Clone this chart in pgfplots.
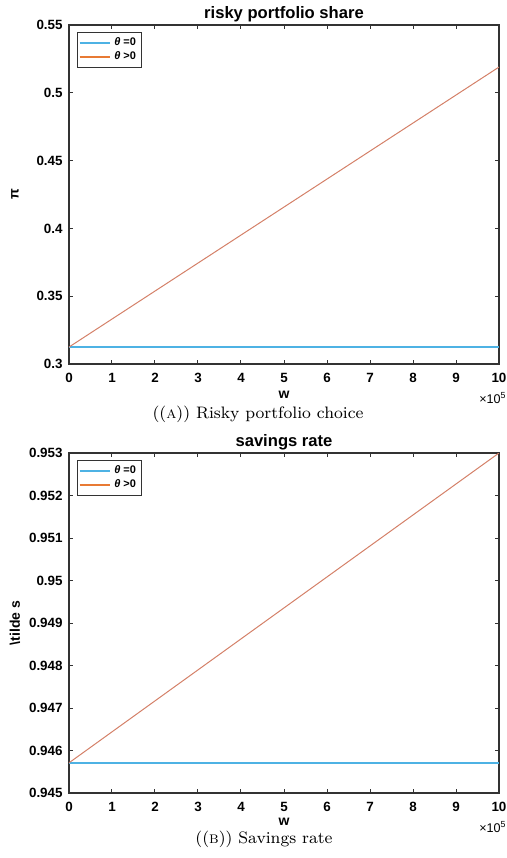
\documentclass[border=0pt]{standalone}
\usepackage{fontspec}
\usepackage{pgfplots}
\pgfplotsset{compat=1.18}
\newfontfamily\mfont{Liberation Sans}

\definecolor{mblue}{RGB}{77,178,228}
\definecolor{mred}{RGB}{212,128,104}
\definecolor{lorange}{RGB}{232,122,52}

\pgfplotsset{
  mstyle/.style={
    scale only axis, width=215pt,
    xmin=0, xmax=10, xtick={0,1,...,10},
    tick align=inside, major tick length=2pt,
    axis line style={black!80, line width=0.8pt},
    every tick/.style={black!80, line width=0.5pt},
    /pgf/number format/assume math mode=true,
    tick label style={font=\fontsize{6.7}{7}\mfont\bfseries},
    xticklabel style={inner sep=0pt, yshift=-4.5pt},
    yticklabel style={inner sep=0pt, xshift=-3pt},
    scaled y ticks=false,
    every axis title shift=0pt,
    title style={font=\fontsize{8.3}{9}\mfont\bfseries, at={(0.5,1)}, anchor=base, yshift=3.5pt, inner sep=0pt},
    xlabel style={font=\fontsize{7}{8}\mfont\bfseries, at={(0.5,0)}, anchor=center, yshift=-15.5pt, inner sep=0pt},
    ylabel style={font=\fontsize{7}{8}\mfont\bfseries, at={(-0.1256,0.5)}, anchor=center, inner sep=0pt},
    legend style={at={(0,1)}, anchor=north west, xshift=4pt, yshift=-3.5pt,
      font=\fontsize{5.5}{6}\mfont\bfseries, inner sep=0.6pt, row sep=-2.5pt,
      draw=black!80, line width=0.5pt},
    legend cell align=left,
    legend image code/.code={\draw[#1] (0pt,0pt) -- (15pt,0pt);},
  },
}

\begin{document}
\begin{tikzpicture}[x=1pt,y=1pt]
\useasboundingbox (0,0) rectangle (253.5,-429);

% (a) risky portfolio share
\begin{axis}[mstyle, at={(34.5pt,-182pt)}, anchor=south west, height=169.5pt,
  ymin=0.3, ymax=0.55, ytick={0.3,0.35,0.4,0.45,0.5,0.55},
  title={risky portfolio share}, xlabel={w}, ylabel={π}]
\addplot[mblue, line width=0.7pt] coordinates {(0,0.3125) (10,0.3125)};
\addlegendentry{{\itshape θ} =0}
\addplot[mred, line width=0.5pt, legend image post style={lorange, line width=0.8pt}]
  coordinates {(0,0.3125) (10,0.519)};
\addlegendentry{{\itshape θ} >0}
\end{axis}
\node[anchor=east, inner sep=0pt, font=\fontsize{6.3}{7}\mfont] at (253.5,-199) {×10\textsuperscript{5}};
\node[font=\fontsize{8.3}{10}\selectfont, inner sep=0pt] at (129,-207) {((\textsc{a})) Risky portfolio choice};

% (b) savings rate
\begin{axis}[mstyle, at={(34.5pt,-396.5pt)}, anchor=south west, height=170pt,
  ymin=0.945, ymax=0.953,
  ytick={0.945,0.946,0.947,0.948,0.949,0.95,0.951,0.952,0.953},
  yticklabel style={/pgf/number format/.cd, fixed, precision=3},
  xlabel style={yshift=1.2pt},
  title={savings rate}, xlabel={w}, ylabel={\textbackslash tilde s}]
\addplot[mblue, line width=0.7pt] coordinates {(0,0.94571) (10,0.94571)};
\addlegendentry{{\itshape θ} =0}
\addplot[mred, line width=0.5pt, legend image post style={lorange, line width=0.8pt}]
  coordinates {(0,0.94571) (10,0.953)};
\addlegendentry{{\itshape θ} >0}
\end{axis}
\node[anchor=east, inner sep=0pt, font=\fontsize{6.3}{7}\mfont] at (253.5,-413.5) {×10\textsuperscript{5}};
\node[font=\fontsize{8.3}{10}\selectfont, inner sep=0pt] at (132,-419.5) {((\textsc{b})) Savings rate};
\end{tikzpicture}
\end{document}
